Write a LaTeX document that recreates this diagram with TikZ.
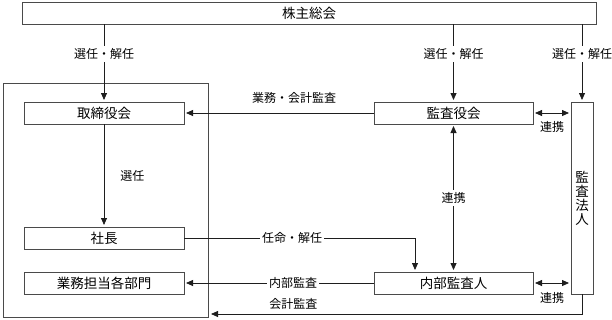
\documentclass[tikz,border=0pt]{standalone}
\usepackage{fontspec}
\setmainfont{Noto Sans CJK JP}
\usetikzlibrary{arrows.meta, calc}
\definecolor{cline}{HTML}{1E1E1E}
\definecolor{cframe}{HTML}{4A4A4A}
\tikzset{
  every picture/.style={line width=0.8pt},
  box/.style={draw=cframe, fill=white, inner sep=0pt, outer sep=0pt, minimum width=#1, minimum height=22pt, font=\fontsize{13.5}{14}\selectfont},
  box/.default=160pt,
  arrow/.style={-{Triangle[length=7pt, width=6pt]}, draw=cline, shorten >=2pt},
  biarrow/.style={{Triangle[length=7pt, width=6pt]}-{Triangle[length=7pt, width=6pt]}, draw=cline, shorten >=2pt, shorten <=2pt},
  lbl/.style={font=\fontsize{12}{14}\selectfont, fill=white, inner sep=2pt},
}
\begin{document}
\begin{tikzpicture}[x=1pt, y=-1pt]
  \useasboundingbox (0,0) rectangle (612,319);
  \node[draw=cframe, inner sep=0pt, minimum width=205pt, minimum height=234pt] (company) at (105.5,200) {};
  \node[box=574pt] (meeting) at (309,13) {株主総会};
  \node[box] (board) at (104,113) {取締役会};
  \node[box] (president) at (104,238) {社長};
  \node[box] (depts) at (104,283) {業務担当各部門};
  \node[box=159pt] (kansa) at (453.5,113) {監査役会};
  \node[box=159pt] (internal) at (453.5,283) {内部監査人};
  \node[box=22pt, minimum height=192pt, align=center] (auditor) at (582,198) {監\\査\\法\\人};
  \coordinate (acct) at (208,314);
  % appointed and dismissed by the shareholders
  \foreach \t in {board, kansa, auditor}
    \draw[arrow] (meeting.south -| \t) -- node[lbl, pos=0.385] {選任・解任} (\t.north);
  \draw[arrow] (board) -- node[lbl, right=14pt] {選任} (president);
  \draw[arrow] (kansa.west) -- node[lbl, pos=0.421, yshift=15pt] {業務・会計監査} (board.east);
  \draw[arrow] (president.east) -| node[lbl, pos=0.234] {任命・解任} ($(internal.north)+(-38.5,0)$);
  \draw[arrow] (internal.west) -- node[lbl, pos=0.426] {内部監査} (depts.east);
  \draw[arrow, shorten >=3pt] (auditor.south) |- node[lbl, pos=0.886, yshift=10pt] {会計監査} (acct);
  % cooperation
  \draw[biarrow] (kansa.south) -- node[lbl] {連携} (internal.north);
  \draw[biarrow] (kansa.east) -- node[lbl, yshift=-14pt] {連携} (auditor.west |- kansa.east);
  \draw[biarrow] (internal.east) -- node[lbl, yshift=-15pt] {連携} (auditor.west |- internal.east);
\end{tikzpicture}
\end{document}
